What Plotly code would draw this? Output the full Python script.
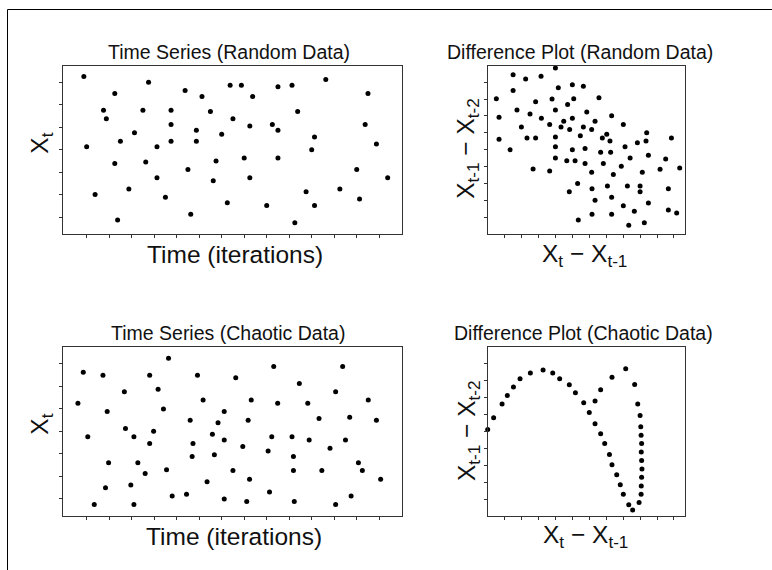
import plotly.graph_objects as go

# ---------------- data ----------------
# Time series, random data: iteration, value
rand_iter = [7, 8, 11, 14, 15, 18, 18, 19, 20, 23, 25, 28, 29, 30, 33, 33, 36, 38, 38, 38,
             43, 44, 45, 47, 47, 49, 52, 53, 54, 56, 58, 59, 60, 63, 64, 66, 66, 67, 72, 74,
             76, 76, 76, 81, 82, 83, 86, 88, 89, 89, 93, 98, 104, 105, 107, 108, 111, 115]
rand_val = [7.27, 4.14, 2.01, 5.77, 5.39, 6.51, 3.39, 0.88, 4.39, 2.26, 4.76, 5.77, 3.46, 7.01,
            4.14, 2.76, 1.89, 5.77, 5.13, 4.39, 6.64, 3.13, 1.13, 4.88, 4.39, 6.38, 5.71, 2.63,
            3.50, 4.70, 1.64, 6.88, 5.39, 6.88, 3.64, 2.76, 5.06, 6.38, 1.52, 5.13, 4.88, 6.81,
            3.64, 6.88, 0.76, 5.71, 2.13, 4.01, 4.57, 1.52, 7.13, 2.26, 3.13, 1.81, 5.13, 6.51,
            4.26, 2.76]

# Difference plot, random data
rand_dx = [4.00, 1.50, 2.24, 3.15, 1.50, 4.17, 5.00, 5.65, 0.51, 2.83, 3.80, 5.08, 6.57, 4.72,
           1.73, 2.50, 4.00, 5.85, 0.67, 3.17, 4.49, 5.00, 7.32, 3.66, 4.33, 1.99, 4.84, 5.65,
           6.34, 6.14, 8.01, 0.67, 2.32, 2.83, 4.00, 5.47, 6.77, 7.03, 7.22, 9.39, 1.32, 4.00,
           5.00, 5.75, 6.67, 7.26, 8.11, 8.84, 9.35, 10.85, 4.00, 4.67, 5.16, 5.75, 6.83, 9.49,
           8.41, 7.89, 10.51, 2.68, 3.66, 6.14, 7.42, 9.13, 10.18, 11.34, 5.31, 4.82, 6.16, 7.07,
           8.25, 9.00, 9.00, 10.67, 6.34, 7.32, 9.49, 8.01, 8.66, 10.67, 11.16, 6.16, 7.32, 5.35,
           9.25, 8.33]
rand_dy = [9.83, 9.44, 9.18, 9.34, 8.51, 8.67, 8.85, 8.75, 8.02, 7.84, 8.00, 8.02, 8.08, 7.68,
           7.35, 7.11, 7.35, 7.23, 6.92, 6.86, 6.68, 6.86, 7.01, 6.50, 6.34, 6.34, 6.19, 6.34,
           6.68, 6.19, 6.50, 5.62, 5.69, 5.69, 5.75, 5.83, 5.69, 5.91, 5.52, 6.01, 5.00, 5.18,
           5.00, 5.08, 4.85, 4.85, 5.18, 5.42, 5.52, 5.69, 4.51, 4.35, 4.35, 4.18, 4.18, 4.67,
           4.51, 4.02, 4.45, 3.86, 3.74, 3.67, 3.53, 3.67, 3.84, 3.92, 3.01, 2.52, 2.70, 2.86,
           2.86, 2.86, 2.52, 2.70, 2.01, 2.19, 1.85, 1.69, 1.36, 1.44, 1.26, 1.18, 1.18, 0.85,
           0.69, 0.53]

# Time series, chaotic data
chaos_iter = [4.9, 6.8, 8.4, 10.7, 13.8, 14.7, 15.3, 15.8, 21.4, 21.8, 23.7, 24.8, 24.8, 26.2,
              28.8, 30.4, 30.4, 31.8, 33.4, 35.3, 36.4, 37.1, 38.4, 43.5, 44.8, 45.5, 45.8, 47.4,
              49.4, 50.8, 52.7, 53.4, 54.7, 56.9, 56.9, 56.9, 60.0, 61.0, 63.5, 64.9, 65.4, 65.9,
              66.5, 72.5, 73.0, 73.8, 74.5, 75.9, 81.0, 81.5, 81.5, 81.8, 83.6, 86.6, 87.1, 90.6,
              91.6, 94.5, 96.5, 96.5, 99.0, 100.0, 101.5, 102.0, 104.6, 106.0, 108.1, 111.0, 112.5]
chaos_val = [5.25, 6.63, 3.76, 0.75, 6.50, 1.49, 4.88, 2.61, 5.76, 4.13, 1.62, 3.76, 0.75, 2.61,
             2.13, 6.50, 3.46, 4.01, 5.87, 5.00, 2.30, 7.25, 1.13, 1.21, 4.50, 2.88, 3.46, 6.50,
             5.39, 1.76, 3.87, 2.96, 4.38, 4.88, 3.62, 1.00, 2.26, 6.38, 3.33, 0.88, 4.50, 1.87,
             5.39, 3.13, 1.31, 3.76, 6.88, 5.25, 3.76, 2.88, 2.26, 0.88, 6.13, 5.25, 3.62, 4.57,
             2.26, 3.25, 5.76, 0.75, 6.88, 3.62, 4.63, 1.13, 2.61, 2.26, 5.39, 4.50, 1.87]

# Difference plot, chaotic data
chaos_dx = [0.00, 0.35, 0.85, 1.16, 1.52, 1.91, 2.52, 3.27, 3.84, 4.25, 4.82, 5.18, 5.67, 6.00,
            6.34, 6.67, 6.91, 7.19, 7.34, 7.62, 7.83, 8.01, 8.33, 8.56, 8.94, 9.06, 9.07, 9.09,
            9.11, 9.09, 9.07, 9.09, 9.06, 9.04, 9.00, 8.86, 8.68, 8.15, 7.34, 6.67, 6.34]
chaos_dy = [5.10, 5.79, 6.60, 7.11, 7.61, 8.10, 8.43, 8.61, 8.43, 8.10, 7.74, 7.27, 6.68, 6.11,
            5.44, 4.85, 4.28, 3.63, 3.03, 2.44, 1.85, 1.28, 0.67, 0.35, 0.79, 1.28, 1.77, 2.29,
            2.78, 3.27, 3.78, 4.28, 4.77, 5.26, 5.93, 6.60, 7.76, 8.69, 8.18, 7.45, 6.78]

# tick positions (no labels shown)
ts_xticks = [8, 16, 24, 32, 40, 48, 56, 64, 72, 80, 88, 96, 104, 112]
ts_yticks = [1, 2, 3, 4, 5, 6, 7]
dp_xticks = [1, 2, 3, 4, 5, 6, 7, 8, 9, 10, 11]
dp_yticks = [1, 2, 3, 4, 5, 6, 7, 8, 9]

titles = ["Time Series (Random Data)", "Difference Plot (Random Data)",
          "Time Series (Chaotic Data)", "Difference Plot (Chaotic Data)"]
ts_xlabel = "Time (iterations)"
ts_ylabel = "X<sub>t</sub>"
dp_xlabel = "X<sub>t</sub> \u2212 X<sub>t-1</sub>"
dp_ylabel = "X<sub>t-1</sub> \u2212 X<sub>t-2</sub>"

# ---------------- figure ----------------
W, H = 772, 570
FONT = "Liberation Sans, Arial, Helvetica, sans-serif"
LC = "#333333"
TXT = "#111111"

def px_x(p):
    return p / W

def px_y(p):
    return 1 - p / H

ts_xdom = [px_x(63.3), px_x(402.3)]
dp_xdom = [px_x(487.7), px_x(685.3)]
row1_dom = [px_y(234.3), px_y(65.7)]
row2_dom = [px_y(516.0), px_y(347.0)]

ts_xrange = [-0.3, 120.2]
ts_yrange = [0.24, 7.75]
dp_xrange = [0.0, 11.67]
dp_yrange = [0.0, 9.97]

fig = go.Figure()

mk = dict(color="black", size=5)
fig.add_trace(go.Scatter(x=rand_iter, y=rand_val, mode="markers", marker=mk,
                         xaxis="x", yaxis="y", cliponaxis=False, showlegend=False))
fig.add_trace(go.Scatter(x=rand_dx, y=rand_dy, mode="markers", marker=mk,
                         xaxis="x2", yaxis="y2", cliponaxis=False, showlegend=False))
fig.add_trace(go.Scatter(x=chaos_iter, y=chaos_val, mode="markers", marker=mk,
                         xaxis="x3", yaxis="y3", cliponaxis=False, showlegend=False))
fig.add_trace(go.Scatter(x=chaos_dx, y=chaos_dy, mode="markers", marker=mk,
                         xaxis="x4", yaxis="y4", cliponaxis=False, showlegend=False))


def main_axis(domain, anchor, rng, tv):
    return dict(domain=domain, anchor=anchor, range=rng, tickvals=tv,
                showticklabels=False, ticks="outside", ticklen=3, tickwidth=1,
                tickcolor=LC, showline=True, linecolor=LC, linewidth=1, mirror=True,
                showgrid=False, zeroline=False, fixedrange=True)


def overlay_axis(over, anchor, rng, tv, side):
    return dict(overlaying=over, anchor=anchor, range=rng, tickvals=tv, side=side,
                showticklabels=False, ticks="inside", ticklen=3, tickwidth=1,
                tickcolor=LC, showline=False, showgrid=False, zeroline=False,
                fixedrange=True)


layout = dict(
    width=W, height=H,
    margin=dict(l=0, r=0, t=0, b=0),
    paper_bgcolor="white", plot_bgcolor="white",
    showlegend=False,
    xaxis=main_axis(ts_xdom, "y", ts_xrange, ts_xticks),
    yaxis=main_axis(row1_dom, "x", ts_yrange, ts_yticks),
    xaxis2=main_axis(dp_xdom, "y2", dp_xrange, dp_xticks),
    yaxis2=main_axis(row1_dom, "x2", dp_yrange, dp_yticks),
    xaxis3=main_axis(ts_xdom, "y3", ts_xrange, ts_xticks),
    yaxis3=main_axis(row2_dom, "x3", ts_yrange, ts_yticks),
    xaxis4=main_axis(dp_xdom, "y4", dp_xrange, dp_xticks),
    yaxis4=main_axis(row2_dom, "x4", dp_yrange, dp_yticks),
    # overlay axes: inside half of the crossing tick marks
    xaxis5=overlay_axis("x", "y", ts_xrange, ts_xticks, "bottom"),
    yaxis5=overlay_axis("y", "x", ts_yrange, ts_yticks, "left"),
    xaxis6=overlay_axis("x2", "y2", dp_xrange, dp_xticks, "bottom"),
    yaxis6=overlay_axis("y2", "x2", dp_yrange, dp_yticks, "left"),
    xaxis7=overlay_axis("x3", "y3", ts_xrange, ts_xticks, "bottom"),
    yaxis7=overlay_axis("y3", "x3", ts_yrange, ts_yticks, "left"),
    xaxis8=overlay_axis("x4", "y4", dp_xrange, dp_xticks, "bottom"),
    yaxis8=overlay_axis("y4", "x4", dp_yrange, dp_yticks, "left"),
)
fig.update_layout(**layout)

# outer frame (only its top and left edges fall inside the picture)
fig.add_shape(type="rect", xref="paper", yref="paper",
              x0=px_x(7.5), x1=1.05, y0=-0.05, y1=px_y(9.5),
              line=dict(color="black", width=1), fillcolor="rgba(0,0,0,0)")

ann = []
def add_text(text, x, y, size, angle=0):
    ann.append(dict(text=text, x=px_x(x), y=px_y(y), xref="paper", yref="paper",
                    xanchor="center", yanchor="middle", showarrow=False,
                    textangle=angle, font=dict(family=FONT, size=size, color=TXT)))

TS, AS = 19.5, 24.5
add_text(titles[0], 229, 52, TS)
add_text(titles[1], 580, 52.5, TS)
add_text(titles[2], 228, 332.5, TS)
add_text(titles[3], 583, 332.8, TS)

add_text(ts_xlabel, 234.8, 254.4, AS)
add_text(ts_xlabel, 234.3, 536, AS)
add_text(ts_ylabel, 40.7, 143, AS, -90)
add_text(ts_ylabel, 40.7, 424, AS, -90)

add_text(dp_xlabel, 584, 255, AS)
add_text(dp_xlabel, 585, 536.7, AS)
add_text(dp_ylabel, 467.5, 148.3, AS, -90)
add_text(dp_ylabel, 468.3, 430.8, AS, -90)

fig.update_layout(annotations=ann)

fig.write_html("out.html")
